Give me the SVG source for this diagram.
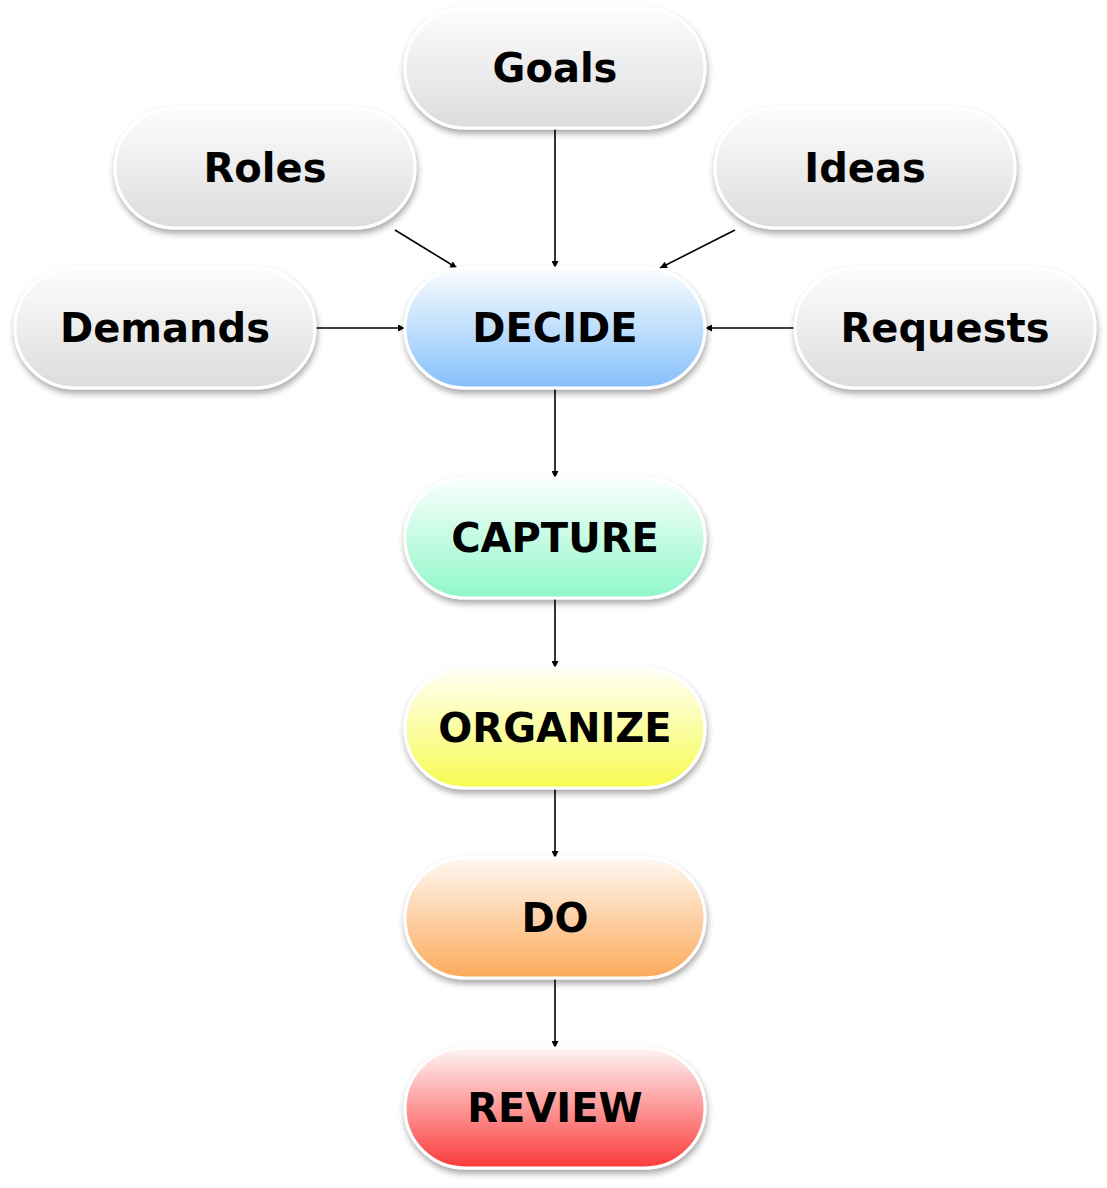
<svg xmlns="http://www.w3.org/2000/svg" width="1107" height="1188" viewBox="0 0 1107 1188">
<style>
.n{stroke:#fff;stroke-width:3;filter:url(#sh)}
.t{font-family:"DejaVu Sans",sans-serif;font-weight:bold;font-size:40px;text-anchor:middle;fill:#000}
.c{stroke:#000;stroke-width:1.6;fill:none;marker-end:url(#a)}
</style>
<defs>
<filter id="sh" x="-10%" y="-20%" width="120%" height="150%"><feDropShadow dx="1" dy="4" stdDeviation="3" flood-color="#000" flood-opacity="0.35"/></filter>
<marker id="a" viewBox="0 0 10 10" refX="10" refY="5" markerWidth="7" markerHeight="7" markerUnits="userSpaceOnUse" orient="auto"><path d="M0,0L10,5L0,10z" fill="#000"/></marker>
<marker id="a2" viewBox="0 0 10 10" refX="10" refY="5" markerWidth="10" markerHeight="10" orient="auto"><path d="M0,0L10,5L0,10z"/></marker>
<linearGradient id="g" x1="0" y1="0" x2="0" y2="1"><stop offset="0" stop-color="#fdfdfd"/><stop offset="1" stop-color="#dcdcdc"/></linearGradient>
<linearGradient id="b" x1="0" y1="0" x2="0" y2="1"><stop offset="0" stop-color="#fbfdff"/><stop offset="1" stop-color="#85c0fb"/></linearGradient>
<linearGradient id="gr" x1="0" y1="0" x2="0" y2="1"><stop offset="0" stop-color="#fbfffd"/><stop offset="1" stop-color="#8ff7c9"/></linearGradient>
<linearGradient id="y" x1="0" y1="0" x2="0" y2="1"><stop offset="0" stop-color="#fffff7"/><stop offset="1" stop-color="#f7fb50"/></linearGradient>
<linearGradient id="o" x1="0" y1="0" x2="0" y2="1"><stop offset="0" stop-color="#fff8f2"/><stop offset="1" stop-color="#fbaa5a"/></linearGradient>
<linearGradient id="r" x1="0" y1="0" x2="0" y2="1"><stop offset="0" stop-color="#fff4f4"/><stop offset="1" stop-color="#fb3a3a"/></linearGradient>
</defs>
<g id="connectors">
<path class="c" d="M555,128V268"/>
<path class="c" d="M395,230L457,268"/>
<path class="c" d="M735,230L660,268"/>
<path class="c" d="M315,328H405"/>
<path class="c" d="M795,328H705"/>
<path class="c" d="M555,388V478"/>
<path class="c" d="M555,598V668"/>
<path class="c" d="M555,788V858"/>
<path class="c" d="M555,978V1048"/>
</g>
<g id="goals"><rect class="n" x="405" y="8" width="300" height="120" rx="60" fill="url(#g)"/><text class="t" x="555" y="82">Goals</text></g>
<g id="roles"><rect class="n" x="115" y="108" width="300" height="120" rx="60" fill="url(#g)"/><text class="t" x="265" y="182">Roles</text></g>
<g id="ideas"><rect class="n" x="715" y="108" width="300" height="120" rx="60" fill="url(#g)"/><text class="t" x="865" y="182">Ideas</text></g>
<g id="demands"><rect class="n" x="15" y="268" width="300" height="120" rx="60" fill="url(#g)"/><text class="t" x="165" y="342">Demands</text></g>
<g id="requests"><rect class="n" x="795" y="268" width="300" height="120" rx="60" fill="url(#g)"/><text class="t" x="945" y="342">Requests</text></g>
<g id="decide"><rect class="n" x="405" y="268" width="300" height="120" rx="60" fill="url(#b)"/><text class="t" x="555" y="342">DECIDE</text></g>
<g id="capture"><rect class="n" x="405" y="478" width="300" height="120" rx="60" fill="url(#gr)"/><text class="t" x="555" y="552">CAPTURE</text></g>
<g id="organize"><rect class="n" x="405" y="668" width="300" height="120" rx="60" fill="url(#y)"/><text class="t" x="555" y="742">ORGANIZE</text></g>
<g id="do"><rect class="n" x="405" y="858" width="300" height="120" rx="60" fill="url(#o)"/><text class="t" x="555" y="932">DO</text></g>
<g id="review"><rect class="n" x="405" y="1048" width="300" height="120" rx="60" fill="url(#r)"/><text class="t" x="555" y="1122">REVIEW</text></g>
</svg>
